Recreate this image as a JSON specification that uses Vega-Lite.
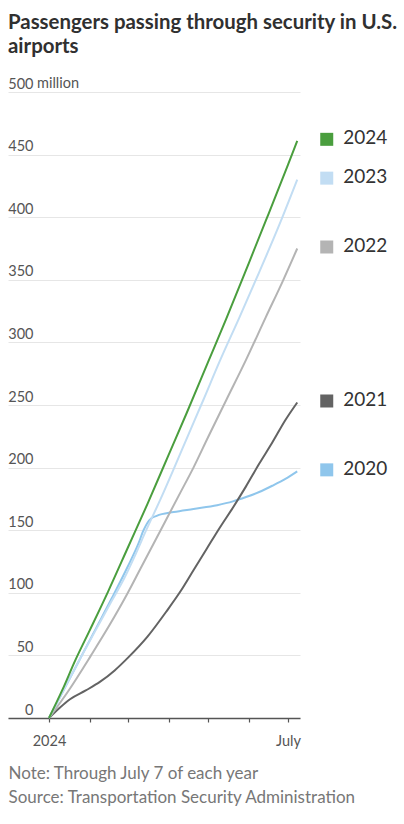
{
  "$schema": "https://vega.github.io/schema/vega-lite/v6.json",
  "width": 292,
  "height": 626,
  "autosize": {"type": "none"},
  "padding": {"left": 8, "top": 92, "right": 104, "bottom": 106},
  "background": "white",
  "config": {"view": {"stroke": null}, "font": "Lato"},
  "title": {
    "text": ["Passengers passing through security in U.S.", "airports"],
    "anchor": "start",
    "frame": "group",
    "font": "Lato",
    "fontSize": 20.4,
    "fontWeight": "bold",
    "color": "#303030",
    "lineHeight": 24,
    "offset": 19
  },
  "datasets": {
    "tsa": [
      {"year": "2020", "d": 0, "v": 0}, {"year": "2020", "d": 12, "v": 24}, {"year": "2020", "d": 24, "v": 48}, {"year": "2020", "d": 36, "v": 72}, {"year": "2020", "d": 48, "v": 96}, {"year": "2020", "d": 60, "v": 121}, {"year": "2020", "d": 68, "v": 139}, {"year": "2020", "d": 72, "v": 150}, {"year": "2020", "d": 75, "v": 156}, {"year": "2020", "d": 78, "v": 159.5}, {"year": "2020", "d": 82, "v": 161.5}, {"year": "2020", "d": 95, "v": 164.5}, {"year": "2020", "d": 110, "v": 167}, {"year": "2020", "d": 128, "v": 170}, {"year": "2020", "d": 140, "v": 173}, {"year": "2020", "d": 150, "v": 176.5}, {"year": "2020", "d": 160, "v": 180.5}, {"year": "2020", "d": 170, "v": 185.5}, {"year": "2020", "d": 180, "v": 191}, {"year": "2020", "d": 189, "v": 197},
      {"year": "2021", "d": 0, "v": 0}, {"year": "2021", "d": 8, "v": 8}, {"year": "2021", "d": 16, "v": 15}, {"year": "2021", "d": 28, "v": 22}, {"year": "2021", "d": 39, "v": 29}, {"year": "2021", "d": 50, "v": 38}, {"year": "2021", "d": 60, "v": 48}, {"year": "2021", "d": 75, "v": 65}, {"year": "2021", "d": 90, "v": 86}, {"year": "2021", "d": 100, "v": 101}, {"year": "2021", "d": 110, "v": 118}, {"year": "2021", "d": 120, "v": 135}, {"year": "2021", "d": 130, "v": 152}, {"year": "2021", "d": 140, "v": 168}, {"year": "2021", "d": 150, "v": 185}, {"year": "2021", "d": 160, "v": 203}, {"year": "2021", "d": 170, "v": 220}, {"year": "2021", "d": 180, "v": 238}, {"year": "2021", "d": 189, "v": 252},
      {"year": "2022", "d": 0, "v": 0}, {"year": "2022", "d": 15, "v": 22}, {"year": "2022", "d": 32, "v": 50}, {"year": "2022", "d": 46, "v": 74}, {"year": "2022", "d": 59, "v": 98}, {"year": "2022", "d": 70, "v": 120}, {"year": "2022", "d": 85, "v": 150}, {"year": "2022", "d": 100, "v": 180}, {"year": "2022", "d": 110, "v": 200}, {"year": "2022", "d": 121, "v": 224}, {"year": "2022", "d": 135, "v": 254}, {"year": "2022", "d": 150, "v": 286}, {"year": "2022", "d": 165, "v": 320}, {"year": "2022", "d": 178, "v": 349}, {"year": "2022", "d": 189, "v": 375},
      {"year": "2023", "d": 0, "v": 0}, {"year": "2023", "d": 12, "v": 24}, {"year": "2023", "d": 24, "v": 48}, {"year": "2023", "d": 36, "v": 71}, {"year": "2023", "d": 48, "v": 94}, {"year": "2023", "d": 57, "v": 111}, {"year": "2023", "d": 66, "v": 131}, {"year": "2023", "d": 74, "v": 150}, {"year": "2023", "d": 85, "v": 175}, {"year": "2023", "d": 95, "v": 199}, {"year": "2023", "d": 106, "v": 226}, {"year": "2023", "d": 117.5, "v": 254}, {"year": "2023", "d": 130, "v": 285}, {"year": "2023", "d": 145, "v": 320}, {"year": "2023", "d": 160, "v": 356}, {"year": "2023", "d": 175, "v": 393}, {"year": "2023", "d": 189, "v": 430},
      {"year": "2024", "d": 0, "v": 0}, {"year": "2024", "d": 10, "v": 22}, {"year": "2024", "d": 20, "v": 46}, {"year": "2024", "d": 31, "v": 70}, {"year": "2024", "d": 45, "v": 101}, {"year": "2024", "d": 60, "v": 136}, {"year": "2024", "d": 75, "v": 171}, {"year": "2024", "d": 91, "v": 210}, {"year": "2024", "d": 105, "v": 244}, {"year": "2024", "d": 121, "v": 284}, {"year": "2024", "d": 135, "v": 319}, {"year": "2024", "d": 152, "v": 363}, {"year": "2024", "d": 165, "v": 397}, {"year": "2024", "d": 182, "v": 442}, {"year": "2024", "d": 189, "v": 461}
    ],
    "unit": [{"d": 0, "v": 500, "unit": "million"}]
  },
  "data": {"name": "tsa"},
  "encoding": {
    "x": {
      "field": "d", "type": "quantitative",
      "scale": {"domain": [-31.2, 191.1], "nice": false, "zero": false},
      "axis": {
        "values": [0, 31, 60, 91, 121, 152, 182],
        "labelExpr": "datum.value == 0 ? '2024' : datum.value == 182 ? 'July' : ''",
        "grid": false,
        "domainColor": "#555555", "domainWidth": 1.5,
        "tickColor": "#555555", "tickSize": 4, "tickWidth": 1.2,
        "labelFont": "Lato", "labelFontSize": 14.5, "labelColor": "#555555",
        "labelBaseline": "alphabetic", "labelPadding": 23, "labelOverlap": false, "labelBound": false, "labelFlush": false,
        "title": ["Note: Through July 7 of each year", "Source: Transportation Security Administration"],
        "titleFont": "Lato", "titleFontSize": 17, "titleFontWeight": "normal", "titleColor": "#777777",
        "titleAnchor": "start", "titleAlign": "left", "titleBaseline": "alphabetic",
        "titleX": 0, "titleY": 60, "titleLineHeight": 24
      }
    },
    "y": {
      "field": "v", "type": "quantitative",
      "scale": {"domain": [0, 500], "nice": false},
      "axis": {
        "values": [0, 50, 100, 150, 200, 250, 300, 350, 400, 450, 500],
        "grid": true, "gridColor": "#e6e6e6", "gridWidth": 1,
        "domain": false, "ticks": false, "tickSize": 0,
        "labelAlign": "right", "labelPadding": -25, "labelBaseline": "alphabetic", "labelOffset": -4,
        "labelFont": "Lato", "labelFontSize": 14.5, "labelColor": "#555555", "labelOverlap": false, "labelBound": false,
        "title": null
      }
    },
    "color": {
      "field": "year", "type": "nominal",
      "scale": {"domain": ["2024", "2023", "2022", "2021", "2020"], "range": ["#4a9e3e", "#c2ddf3", "#b4b4b4", "#636363", "#8fc6ec"]},
      "legend": null
    }
  },
  "layer": [
    {"mark": {"type": "line", "interpolate": "monotone", "strokeWidth": 2}},
    {
      "transform": [{"filter": "datum.d == 189"}],
      "mark": {"type": "square", "size": 169, "opacity": 1, "xOffset": 29.5, "yOffset": -1.5}
    },
    {
      "transform": [{"filter": "datum.d == 189"}],
      "mark": {"type": "text", "align": "left", "baseline": "middle", "dx": 46, "dy": -2.5, "font": "Lato", "fontSize": 19, "color": "#333333"},
      "encoding": {"text": {"field": "year"}, "color": {"value": "#333333"}}
    },
    {
      "data": {"name": "unit"},
      "mark": {"type": "text", "align": "left", "baseline": "alphabetic", "dx": -12, "dy": -4, "font": "Lato", "fontSize": 14.5, "color": "#555555"},
      "encoding": {"text": {"field": "unit"}, "color": {"value": "#555555"}}
    }
  ]
}
